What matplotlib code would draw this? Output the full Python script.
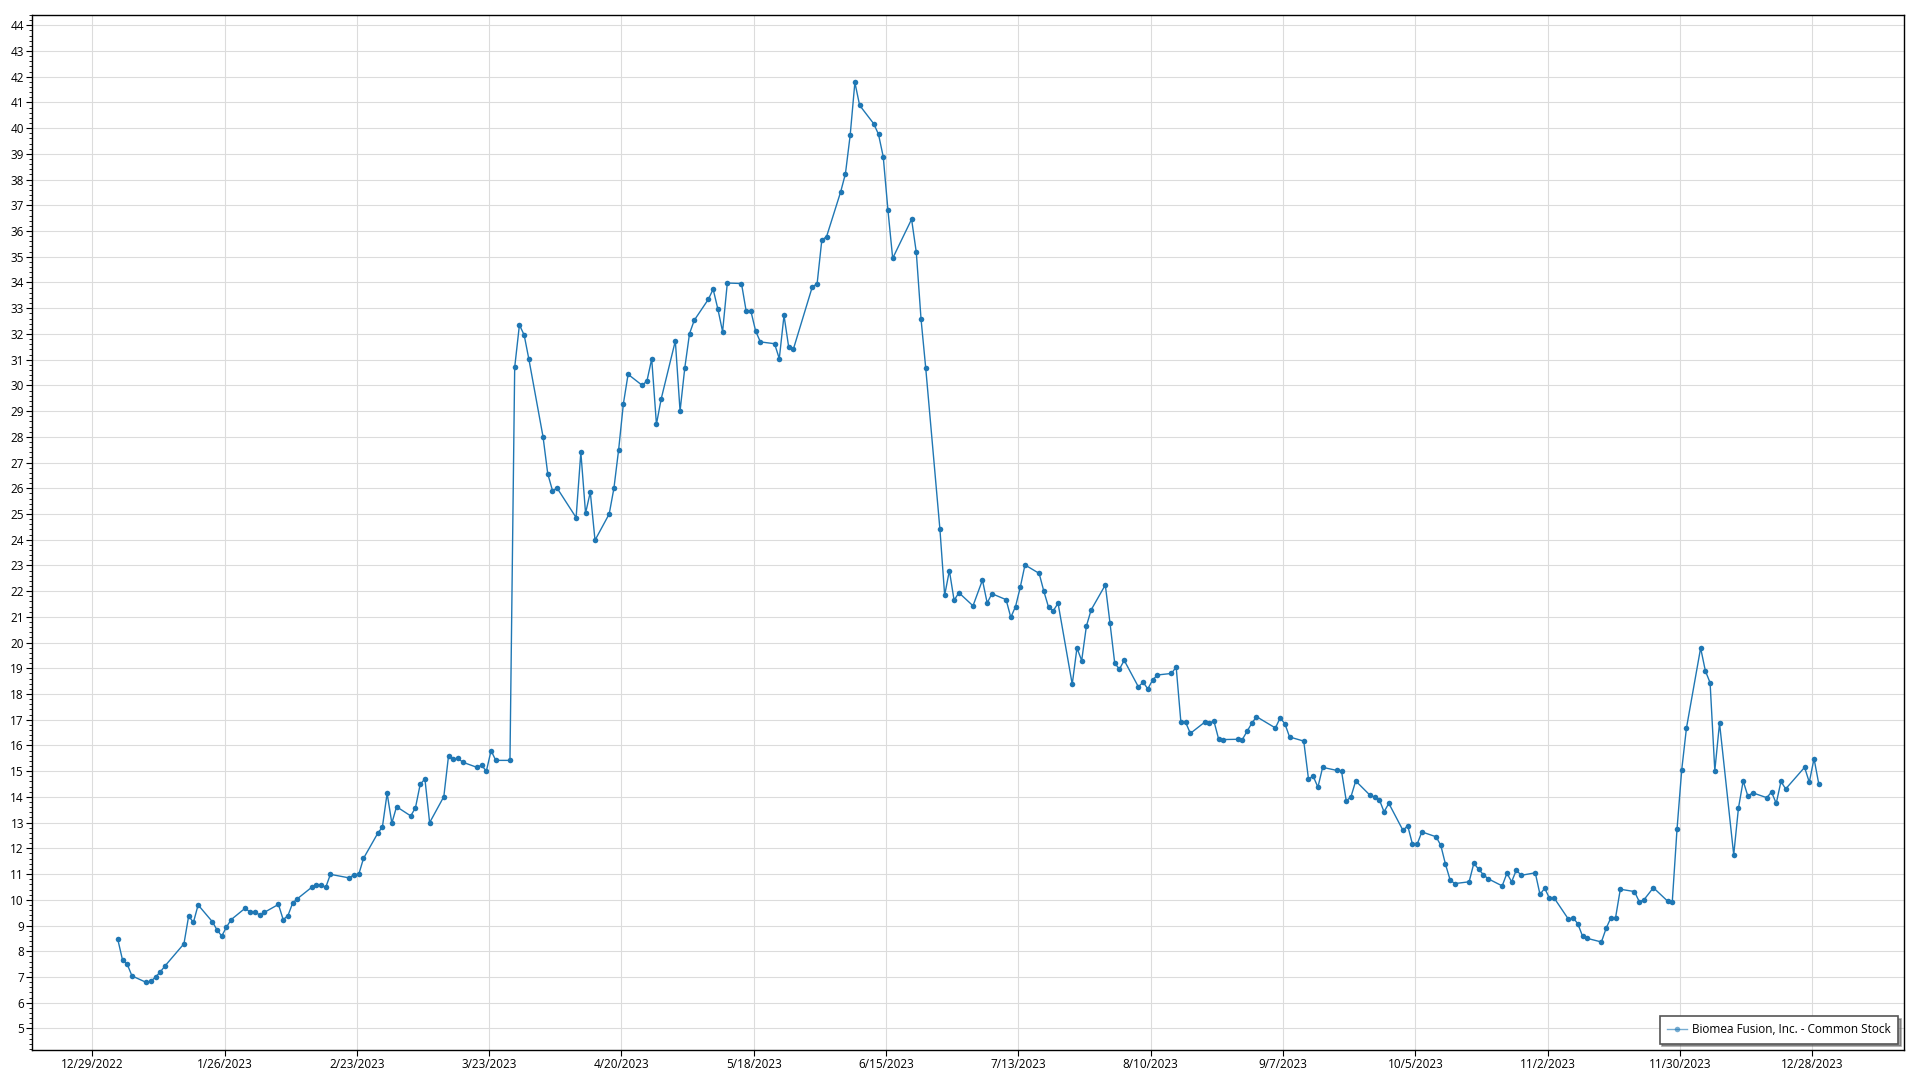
import datetime as dt
import matplotlib
matplotlib.use("Agg")
import matplotlib.pyplot as plt
from matplotlib.ticker import MultipleLocator

plt.rcParams['font.family'] = ['Open Sans', 'DejaVu Sans']

series_name = "Biomea Fusion, Inc. - Common Stock"

# trading session timestamps (market open 09:30)
session_time = "09:30"

dates = [
    "2023-01-03", "2023-01-04", "2023-01-05", "2023-01-06", "2023-01-09", "2023-01-10", "2023-01-11", "2023-01-12",
    "2023-01-13", "2023-01-17", "2023-01-18", "2023-01-19", "2023-01-20", "2023-01-23", "2023-01-24", "2023-01-25",
    "2023-01-26", "2023-01-27", "2023-01-30", "2023-01-31",
    "2023-02-01", "2023-02-02", "2023-02-03", "2023-02-06", "2023-02-07", "2023-02-08", "2023-02-09", "2023-02-10",
    "2023-02-13", "2023-02-14", "2023-02-15", "2023-02-16", "2023-02-17", "2023-02-21", "2023-02-22", "2023-02-23",
    "2023-02-24", "2023-02-27", "2023-02-28",
    "2023-03-01", "2023-03-02", "2023-03-03", "2023-03-06", "2023-03-07", "2023-03-08", "2023-03-09", "2023-03-10",
    "2023-03-13", "2023-03-14", "2023-03-15", "2023-03-16", "2023-03-17", "2023-03-20", "2023-03-21", "2023-03-22",
    "2023-03-23", "2023-03-24", "2023-03-27", "2023-03-28", "2023-03-29", "2023-03-30", "2023-03-31",
    "2023-04-03", "2023-04-04", "2023-04-05", "2023-04-06", "2023-04-10", "2023-04-11", "2023-04-12", "2023-04-13",
    "2023-04-14", "2023-04-17", "2023-04-18", "2023-04-19", "2023-04-20", "2023-04-21", "2023-04-24", "2023-04-25",
    "2023-04-26", "2023-04-27", "2023-04-28",
    "2023-05-01", "2023-05-02", "2023-05-03", "2023-05-04", "2023-05-05", "2023-05-08", "2023-05-09", "2023-05-10",
    "2023-05-11", "2023-05-12", "2023-05-15", "2023-05-16", "2023-05-17", "2023-05-18", "2023-05-19", "2023-05-22",
    "2023-05-23", "2023-05-24", "2023-05-25", "2023-05-26", "2023-05-30", "2023-05-31",
    "2023-06-01", "2023-06-02", "2023-06-05", "2023-06-06", "2023-06-07", "2023-06-08", "2023-06-09", "2023-06-12",
    "2023-06-13", "2023-06-14", "2023-06-15", "2023-06-16", "2023-06-20", "2023-06-21", "2023-06-22", "2023-06-23",
    "2023-06-26", "2023-06-27", "2023-06-28", "2023-06-29", "2023-06-30",
    "2023-07-03", "2023-07-05", "2023-07-06", "2023-07-07", "2023-07-10", "2023-07-11", "2023-07-12", "2023-07-13",
    "2023-07-14", "2023-07-17", "2023-07-18", "2023-07-19", "2023-07-20", "2023-07-21", "2023-07-24", "2023-07-25",
    "2023-07-26", "2023-07-27", "2023-07-28", "2023-07-31",
    "2023-08-01", "2023-08-02", "2023-08-03", "2023-08-04", "2023-08-07", "2023-08-08", "2023-08-09", "2023-08-10",
    "2023-08-11", "2023-08-14", "2023-08-15", "2023-08-16", "2023-08-17", "2023-08-18", "2023-08-21", "2023-08-22",
    "2023-08-23", "2023-08-24", "2023-08-25", "2023-08-28", "2023-08-29", "2023-08-30", "2023-08-31",
    "2023-09-01", "2023-09-05", "2023-09-06", "2023-09-07", "2023-09-08", "2023-09-11", "2023-09-12", "2023-09-13",
    "2023-09-14", "2023-09-15", "2023-09-18", "2023-09-19", "2023-09-20", "2023-09-21", "2023-09-22", "2023-09-25",
    "2023-09-26", "2023-09-27", "2023-09-28", "2023-09-29",
    "2023-10-02", "2023-10-03", "2023-10-04", "2023-10-05", "2023-10-06", "2023-10-09", "2023-10-10", "2023-10-11",
    "2023-10-12", "2023-10-13", "2023-10-16", "2023-10-17", "2023-10-18", "2023-10-19", "2023-10-20", "2023-10-23",
    "2023-10-24", "2023-10-25", "2023-10-26", "2023-10-27", "2023-10-30", "2023-10-31",
    "2023-11-01", "2023-11-02", "2023-11-03", "2023-11-06", "2023-11-07", "2023-11-08", "2023-11-09", "2023-11-10",
    "2023-11-13", "2023-11-14", "2023-11-15", "2023-11-16", "2023-11-17", "2023-11-20", "2023-11-21", "2023-11-22",
    "2023-11-24", "2023-11-27", "2023-11-28", "2023-11-29", "2023-11-30",
    "2023-12-01", "2023-12-04", "2023-12-05", "2023-12-06", "2023-12-07", "2023-12-08", "2023-12-11", "2023-12-12",
    "2023-12-13", "2023-12-14", "2023-12-15", "2023-12-18", "2023-12-19", "2023-12-20", "2023-12-21", "2023-12-22",
    "2023-12-26", "2023-12-27", "2023-12-28", "2023-12-29",
]

prices = [
    8.46, 7.66, 7.49, 7.04, 6.79, 6.83, 7.00, 7.20,
    7.43, 8.29, 9.37, 9.12, 9.80, 9.15, 8.83, 8.59,
    8.94, 9.23, 9.68, 9.51,
    9.54, 9.41, 9.51, 9.82, 9.23, 9.38, 9.87, 10.04,
    10.48, 10.56, 10.57, 10.48, 10.99, 10.85, 10.98, 10.99,
    11.61, 12.58, 12.83,
    14.14, 12.98, 13.62, 13.26, 13.58, 14.49, 14.70, 13.00,
    14.01, 15.60, 15.47, 15.50, 15.35, 15.15, 15.23, 15.00,
    15.80, 15.42, 15.42, 30.70, 32.35, 31.96, 31.02,
    28.00, 26.56, 25.91, 26.00, 24.86, 27.40, 25.03, 25.85,
    23.98, 25.00, 26.00, 27.50, 29.28, 30.43, 30.00, 30.18,
    31.03, 28.49, 29.47,
    31.73, 29.00, 30.68, 32.01, 32.53, 33.35, 33.74, 32.97,
    32.09, 33.98, 33.96, 32.88, 32.88, 32.11, 31.69, 31.62,
    31.04, 32.72, 31.48, 31.42, 33.84, 33.94,
    35.65, 35.78, 37.53, 38.23, 39.72, 41.78, 40.89, 40.17,
    39.76, 38.89, 36.81, 34.94, 36.46, 35.17, 32.58, 30.66,
    24.40, 21.84, 22.80, 21.64, 21.94,
    21.43, 22.43, 21.54, 21.90, 21.67, 20.98, 21.40, 22.15,
    23.02, 22.69, 21.99, 21.37, 21.24, 21.53, 18.38, 19.79,
    19.30, 20.64, 21.27, 22.24,
    20.75, 19.19, 18.97, 19.31, 18.28, 18.46, 18.20, 18.54,
    18.74, 18.80, 19.05, 16.90, 16.90, 16.47, 16.90, 16.88,
    16.94, 16.24, 16.23, 16.24, 16.23, 16.55, 16.86,
    17.12, 16.68, 17.07, 16.85, 16.33, 16.17, 14.70, 14.80,
    14.38, 15.15, 15.03, 15.00, 13.84, 14.01, 14.62, 14.07,
    13.99, 13.89, 13.42, 13.75,
    12.70, 12.88, 12.17, 12.16, 12.64, 12.45, 12.12, 11.38,
    10.76, 10.63, 10.70, 11.42, 11.19, 10.98, 10.82, 10.54,
    11.03, 10.70, 11.16, 10.95, 11.05, 10.21,
    10.45, 10.06, 10.07, 9.25, 9.30, 9.07, 8.59, 8.50,
    8.36, 8.89, 9.30, 9.31, 10.41, 10.32, 9.93, 10.00,
    10.47, 9.95, 9.93, 12.74, 15.06,
    16.68, 19.79, 18.90, 18.44, 15.02, 16.87, 11.75, 13.56,
    14.62, 14.03, 14.16, 13.97, 14.19, 13.75, 14.60, 14.31,
    15.15, 14.57, 15.49, 14.51,
]

tick_start = "2022-12-29"
tick_step_days = 28
tick_count = 14
y_ticks = list(range(5, 45))

x = [dt.datetime.strptime(d + " " + session_time, "%Y-%m-%d %H:%M") for d in dates]
t0 = dt.datetime.strptime(tick_start, "%Y-%m-%d")
xticks = [t0 + dt.timedelta(days=tick_step_days * k) for k in range(tick_count)]
xtick_labels = [f"{d.month}/{d.day}/{d.year}" for d in xticks]

fig = plt.figure(figsize=(19.2, 10.8), dpi=100)
ax = fig.add_axes([32.3 / 1920, 1 - 1050 / 1080, (1904.3 - 32.3) / 1920, (1050 - 15) / 1080])

color = "#1f77b4"
ax.plot(x, prices, color=color, linewidth=1.0, marker="o", markersize=4.0,
        markeredgewidth=0, label=series_name, zorder=3)

ax.set_xlim(t0 - dt.timedelta(days=12.7), t0 + dt.timedelta(days=383.5))
ax.set_ylim(4.16, 44.4)

ax.set_xticks(xticks)
ax.set_xticklabels(xtick_labels)
ax.set_yticks(y_ticks)
ax.set_yticklabels([str(v) for v in y_ticks])
ax.yaxis.set_minor_locator(MultipleLocator(0.2))

ax.grid(True, which="major", color="#dcdcdc", linewidth=0.8, zorder=0)
ax.set_axisbelow(True)

ax.tick_params(axis="both", which="major", direction="out", length=4, width=0.8,
               labelsize=8.5, colors="black", pad=2)
ax.tick_params(axis="y", which="minor", direction="out", length=2, width=0.6, color="black")
ax.tick_params(axis="x", which="minor", length=0)

for s in ax.spines.values():
    s.set_color("black")
    s.set_linewidth(1.0)

leg = ax.legend(loc="lower right", fontsize=8.5, frameon=True, fancybox=False, shadow=True,
                borderaxespad=0.55, handlelength=1.7, handletextpad=0.45, borderpad=0.6,
                edgecolor="#555555")
leg.get_frame().set_linewidth(1.2)
for h in leg.legend_handles:
    h.set_alpha(0.6)

fig.savefig("out.png", dpi=100)
